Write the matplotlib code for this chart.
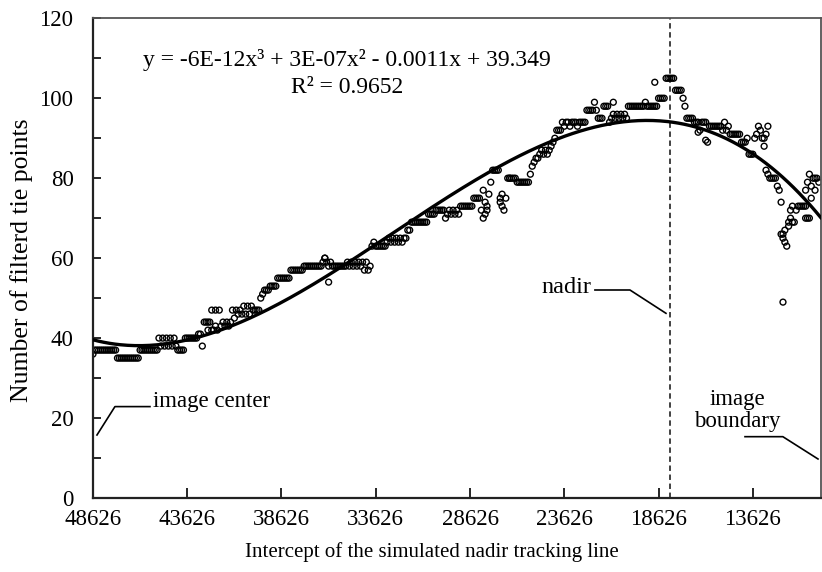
import numpy as np
import matplotlib
matplotlib.use("Agg")
import matplotlib.pyplot as plt

# ---------------- data ----------------
x_first = 48626
x_step = 100
# filtered tie points, one value per intercept step (48626 down to 10126)
tie_points = [
    36, 37, 37, 37, 37, 37, 37, 37, 37, 37,
    37, 37, 37, 35, 35, 35, 35, 35, 35, 35,
    35, 35, 35, 35, 35, 37, 37, 37, 37, 37,
    37, 37, 37, 37, 37, 40, 38, 40, 38, 40,
    38, 40, 38, 40, 38, 37, 37, 37, 37, 40,
    40, 40, 40, 40, 40, 40, 41, 41, 38, 44,
    44, 44, 44, 47, 42, 47, 42, 47, 43, 44,
    43, 44, 43, 44, 47, 45, 47, 46, 47, 46,
    48, 46, 48, 46, 48, 47, 47, 47, 47, 50,
    51, 52, 52, 52, 53, 53, 53, 53, 55, 55,
    55, 55, 55, 55, 55, 57, 57, 57, 57, 57,
    57, 57, 58, 58, 58, 58, 58, 58, 58, 58,
    58, 58, 59, 60, 59, 58, 59, 58, 58, 58,
    58, 58, 58, 58, 58, 59, 58, 59, 58, 59,
    58, 59, 58, 59, 57, 59, 57, 58, 63, 64,
    63, 63, 63, 63, 63, 63, 64, 65, 64, 65,
    64, 65, 64, 65, 64, 65, 65, 67, 67, 69,
    69, 69, 69, 69, 69, 69, 69, 69, 71, 71,
    71, 71, 72, 72, 72, 72, 72, 70, 71, 72,
    71, 72, 71, 72, 71, 73, 73, 73, 73, 73,
    73, 73, 75, 75, 75, 75, 72, 70, 71, 73,
    76, 79, 82, 82, 82, 82, 75, 73, 72, 75,
    80, 80, 80, 80, 80, 79, 79, 79, 79, 79,
    79, 79, 81, 83, 84, 85, 85, 86, 87, 86,
    87, 86, 87, 88, 89, 90, 92, 92, 92, 94,
    93, 94, 94, 93, 94, 94, 94, 93, 94, 94,
    94, 94, 97, 97, 97, 97, 99, 97, 95, 95,
    95, 98, 98, 98, 94, 95, 96, 95, 96, 95,
    96, 95, 96, 95, 98, 98, 98, 98, 98, 98,
    98, 98, 98, 99, 98, 98, 98, 98, 98, 98,
    100, 100, 100, 100, 105, 105, 105, 105, 105, 102,
    102, 102, 102, 100, 98, 95, 95, 95, 95, 94,
    94, 94, 92, 94, 94, 94, 89, 93, 93, 93,
    93, 93, 93, 93, 92, 94, 92, 93, 91, 91,
    91, 91, 91, 91, 89, 89, 89, 90, 86, 86,
    86, 90, 91, 93, 92, 90, 88, 82, 81, 80,
    80, 80, 80, 78, 77, 74, 66, 64, 63, 69,
    72, 73, 69, 72, 73, 73, 73, 73, 73, 79,
    81, 78, 80, 77, 80, 79,
]
intercepts = x_first - x_step * np.arange(len(tie_points))

# additional observations sharing an intercept with the main series
extra_x = [42526, 42326, 42126, 36326, 36126, 27926, 27826, 27726, 27026, 26926,
           26526, 21026, 18826, 16526, 16126, 13026, 12926, 12826, 12126, 12026,
           11926, 11726, 11626, 11526, 12026, 10826, 10726, 10626, 10826, 10526,
           10326]
extra_y = [42, 42, 43, 60, 54, 77, 74, 72, 74, 76,
           80, 99, 104, 91.5, 89.5, 90, 91, 93, 66, 65,
           67, 68, 70, 69, 49, 70, 70, 70, 77, 75,
           80]

x_ticks = [48626, 43626, 38626, 33626, 28626, 23626, 18626, 13626]
y_ticks = [0, 20, 40, 60, 80, 100, 120]
x_min, x_max = 48626, 10026
nadir_x = 18026

equation_text = "y = -6E-12x\u00b3 + 3E-07x\u00b2 - 0.0011x + 39.349"
r2_text = "R\u00b2 = 0.9652"

# ---------------- figure ----------------
plt.rcParams['font.family'] = ['Liberation Serif', 'DejaVu Serif']
FS = 16.5

fig = plt.figure(figsize=(8.22, 5.72), dpi=100)
ax = fig.add_axes([0.1131, 0.1294, 0.8853, 0.8386])

all_x = np.concatenate([intercepts, extra_x])
all_y = np.concatenate([tie_points, extra_y])

ax.scatter(all_x, all_y, s=18, facecolors='none', edgecolors='black',
           linewidths=1.0, zorder=2)

# cubic trend line (fitted in distance from the image centre)
coef = np.polyfit(x_first - all_x, all_y, 3)
cx = np.linspace(0, x_first - x_max, 400)
ax.plot(x_first - cx, np.polyval(coef, cx), color='black', lw=2.4, zorder=3)

ax.axvline(nadir_x, color='#333333', lw=1.3, ls=(0, (3, 2)), zorder=1)

ax.set_xlim(x_min, x_max)
ax.set_ylim(0, 120)
ax.set_xticks(x_ticks)
ax.set_xticklabels([str(t) for t in x_ticks])
ax.set_yticks(y_ticks)
ax.set_yticks(np.arange(10, 120, 20), minor=True)
ax.tick_params(axis='x', direction='in', length=7, width=1.2, labelsize=FS, pad=8)
ax.tick_params(axis='y', which='both', direction='in', length=6, width=1.2,
               labelsize=FS, pad=14)

for side in ['left', 'bottom']:
    ax.spines[side].set_linewidth(1.6)
    ax.spines[side].set_color('#222222')
for side in ['top', 'right']:
    ax.spines[side].set_linewidth(1.3)
    ax.spines[side].set_color('#555555')

ax.set_xlabel("Intercept of the simulated nadir tracking line", fontsize=15)
ax.xaxis.set_label_coords(0.466, -0.092)
ax.set_ylabel("Number of filterd tie points", fontsize=18.5)
ax.yaxis.set_label_coords(-0.0824, 0.496)

# equation
ax.text(0.349, 0.9006, equation_text, transform=ax.transAxes, ha='center',
        va='baseline', fontsize=17)
ax.text(0.349, 0.8443, r2_text, transform=ax.transAxes, ha='center',
        va='baseline', fontsize=17)

# annotations with leader lines
def leader(pts):
    xs, ys = zip(*pts)
    ax.plot(xs, ys, transform=ax.transAxes, color='black', lw=1.2,
            clip_on=False, zorder=4)

ax.text(0.0825, 0.1897, "image center", transform=ax.transAxes, ha='left',
        va='baseline', fontsize=FS)
leader([(0.0783, 0.1905), (0.0302, 0.1905), (0.0055, 0.1313)])

ax.text(0.6843, 0.4273, "nadir", transform=ax.transAxes, ha='right',
        va='baseline', fontsize=17.5)
leader([(0.6898, 0.4336), (0.7379, 0.4336), (0.7874, 0.3850)])

ax.text(0.885, 0.1939, "image", transform=ax.transAxes, ha='center',
        va='baseline', fontsize=FS)
ax.text(0.885, 0.148, "boundary", transform=ax.transAxes, ha='center',
        va='baseline', fontsize=FS)
leader([(0.896, 0.1278), (0.948, 0.1278), (0.9963, 0.0813)])

fig.savefig("out.png", dpi=100)
